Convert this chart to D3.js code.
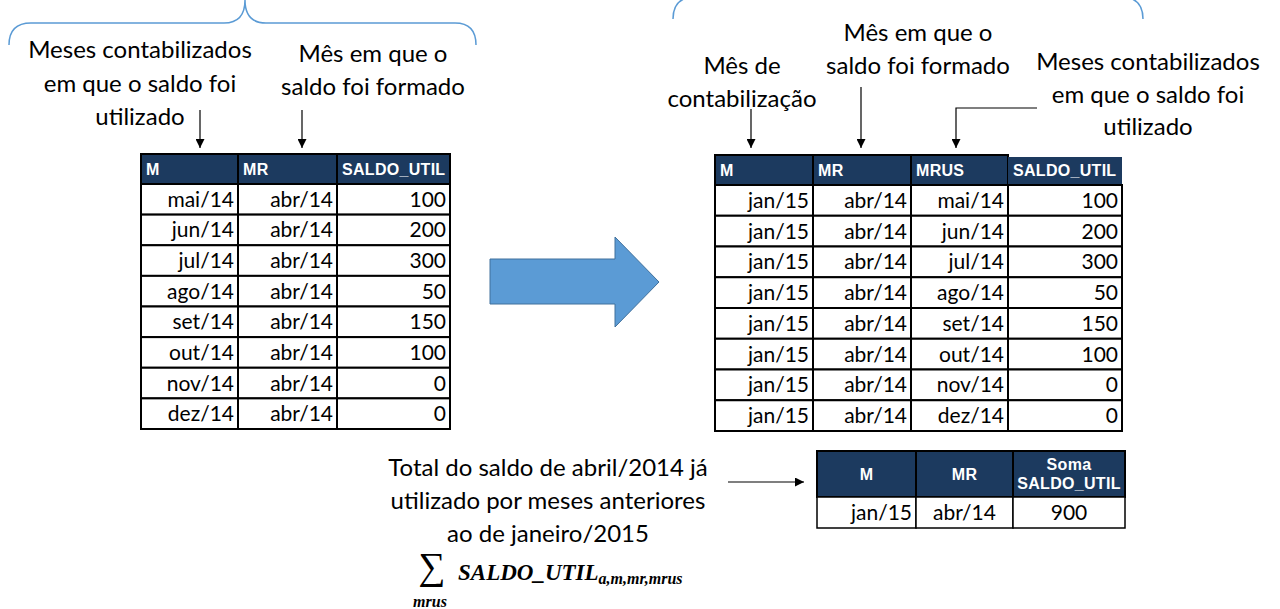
<!DOCTYPE html>
<html><head><meta charset="utf-8">
<script src="https://cdn.jsdelivr.net/npm/d3@7"></script>
<style>html,body{margin:0;padding:0;background:#fff;} svg{display:block}</style>
</head><body><svg id="c" width="1280" height="609"></svg>
<script>
// ---------- data ----------
const monthsUsed  = ["mai/14","jun/14","jul/14","ago/14","set/14","out/14","nov/14","dez/14"];
const monthFormed = ["abr/14","abr/14","abr/14","abr/14","abr/14","abr/14","abr/14","abr/14"];
const monthBooked = ["jan/15","jan/15","jan/15","jan/15","jan/15","jan/15","jan/15","jan/15"];
const saldoUtil   = [100,200,300,50,150,100,0,0];
const leftHeaders  = ["M","MR","SALDO_UTIL"];
const rightHeaders = ["M","MR","MRUS","SALDO_UTIL"];
const sumHeaders   = [["M"],["MR"],["Soma","SALDO_UTIL"]];
const sumM = ["jan/15"], sumMR = ["abr/14"], sumSaldo = [900];
const labelLeftUsed   = ["Meses contabilizados","em que o saldo foi","utilizado"];
const labelFormed     = ["Mês em que o","saldo foi formado"];
const labelBooked     = ["Mês de","contabilização"];
const labelTotal      = ["Total do saldo de abril/2014 já","utilizado por meses anteriores","ao de janeiro/2015"];
const formulaMain = "SALDO_UTIL", formulaSub = "a,m,mr,mrus", formulaIndex = "mrus";

// ---------- setup ----------
const svg = d3.select("#c");
const NAVY = "#1c3a5f", BLUE = "#5b9bd5", BLUE_D = "#41719c";
const LABEL_FONT = "Lato, 'Open Sans', sans-serif";
const CELL_FONT = "Lato, 'Open Sans', sans-serif";
const HEAD_FONT = "'Liberation Sans', Arial, sans-serif";

svg.append("defs").append("marker")
  .attr("id","ah").attr("viewBox","0 0 10 10").attr("refX",10).attr("refY",5)
  .attr("markerWidth",9).attr("markerHeight",9).attr("markerUnits","userSpaceOnUse")
  .attr("orient","auto")
  .append("path").attr("d","M0,0 L10,5 L0,10 Z").attr("fill","#000");

function label(lines, cx, y0, dy, size){
  svg.append("g").selectAll("text").data(lines).join("text")
    .attr("x",cx).attr("y",(d,i)=>y0+i*dy)
    .attr("text-anchor","middle").attr("font-family",LABEL_FONT)
    .attr("font-size",size).attr("fill","#000").text(d=>d);
}
function arrow(points){
  svg.append("path").attr("d", d3.line()(points)).attr("fill","none")
    .attr("stroke","#000").attr("stroke-width",1.2).attr("marker-end","url(#ah)");
}

// ---------- braces ----------
const brace = d3.path();
brace.moveTo(9,45); brace.quadraticCurveTo(9,23,31,23); brace.lineTo(224,23);
brace.quadraticCurveTo(245,23,245,0); brace.quadraticCurveTo(245,23,266,23);
brace.lineTo(455,23); brace.quadraticCurveTo(476,23,476,45);
svg.append("path").attr("d",brace.toString()).attr("fill","none").attr("stroke",BLUE).attr("stroke-width",1.5);
const brace2 = d3.path();
brace2.moveTo(673,19); brace2.quadraticCurveTo(673,-3,695,-3); brace2.lineTo(1121,-3);
brace2.quadraticCurveTo(1143,-3,1143,19);
svg.append("path").attr("d",brace2.toString()).attr("fill","none").attr("stroke",BLUE).attr("stroke-width",1.5);

// ---------- labels ----------
label(labelLeftUsed, 140, 58, 33.5, 24);
label(labelFormed, 373, 62, 33, 24);
label(labelBooked, 742, 74, 33, 24);
label(labelFormed, 918, 41, 33, 24);
label(labelLeftUsed, 1148, 70, 32.5, 24);
label(labelTotal, 548, 476, 33, 24);

arrow([[200,110],[200,148]]);
arrow([[302,110],[302,148]]);
arrow([[751,109],[751,148]]);
arrow([[861,87],[861,148]]);
arrow([[1037,108],[956,108],[956,148]]);
arrow([[728,482],[804,482]]);

// ---------- big arrow ----------
svg.append("path")
  .attr("d", d3.line()([[490,259],[615,259],[615,237],[659,282],[615,327],[615,304],[490,304]]) + "Z")
  .attr("fill",BLUE).attr("stroke",BLUE_D).attr("stroke-width",1);

// ---------- tables ----------
function drawTable(opt){
  const g = svg.append("g");
  const nCols = opt.columns.length, nRows = opt.columns[0].length;
  const x = d3.scaleOrdinal().domain(d3.range(nCols+1)).range(opt.edges);
  const y = d3.scaleBand().domain(d3.range(nRows)).range([opt.headBottom, opt.bottom]);
  const noB = opt.headNoBorder || [];
  const hd = d3.range(nCols);
  g.selectAll("rect.h").data(hd).join("rect").attr("class","h")
    .attr("x",i=>x(i)).attr("y",i=> noB.includes(i) ? opt.top+2 : opt.top)
    .attr("width",i=>x(i+1)-x(i)).attr("height",i=> opt.headBottom - (noB.includes(i) ? opt.top+2 : opt.top))
    .attr("fill",NAVY)
    .attr("stroke",i=>noB.includes(i) ? "none" : "#000").attr("stroke-width",2);
  g.selectAll("text.h").data(hd).join("text").attr("class","h")
    .attr("x",i=> opt.headAlign==="middle" ? (x(i)+x(i+1))/2 : x(i)+5)
    .attr("text-anchor", opt.headAlign==="middle" ? "middle" : "start")
    .attr("y",(opt.top+opt.headBottom)/2)
    .attr("font-family",HEAD_FONT).attr("font-weight","bold").attr("font-size",opt.headSize)
    .attr("fill","#fff").attr("letter-spacing",0.3)
    .each(function(i){
      const lines = [].concat(opt.headers[i]);
      const t = d3.select(this);
      lines.forEach((s,k)=>{
        t.append("tspan").attr("x", opt.headAlign==="middle" ? (x(i)+x(i+1))/2 : x(i)+5)
          .attr("dy", k===0 ? ((0.36 - (lines.length-1)*0.6)+"em") : "1.2em").text(s);
      });
    });
  const cells = [];
  opt.columns.forEach((col,c)=>col.forEach((v,r)=>cells.push({c,r,v})));
  g.selectAll("rect.c").data(cells).join("rect").attr("class","c")
    .attr("x",d=>x(d.c)).attr("y",d=>y(d.r)).attr("width",d=>x(d.c+1)-x(d.c)).attr("height",y.bandwidth())
    .attr("fill","#fff").attr("stroke","#000").attr("stroke-width",opt.cellStroke||2);
  g.selectAll("text.c").data(cells).join("text").attr("class","c")
    .attr("x",d=>{const a=opt.align[d.c]; return a==="end" ? x(d.c+1)-4 : (x(d.c)+x(d.c+1))/2;})
    .attr("text-anchor",d=>opt.align[d.c])
    .attr("y",d=>y(d.r)+y.bandwidth()/2).attr("dy","0.36em")
    .attr("font-family",CELL_FONT).attr("font-size",opt.cellSize).attr("fill","#000")
    .text(d=>d.v);
  return g;
}

drawTable({
  edges:[141,238,337,450], top:154, headBottom:184, bottom:429,
  headers:leftHeaders, columns:[monthsUsed, monthFormed, saldoUtil],
  align:["end","end","end"], headSize:16, cellSize:21
});
drawTable({
  edges:[715,813,911,1008,1122], top:155, headBottom:185, bottom:431,
  headers:rightHeaders, columns:[monthBooked, monthFormed, monthsUsed, saldoUtil],
  align:["end","end","end","end"], headSize:16, cellSize:21, headNoBorder:[3]
});
drawTable({
  edges:[817,916,1013,1125], top:451, headBottom:497, bottom:528,
  headers:sumHeaders, columns:[sumM, sumMR, sumSaldo], headAlign:"middle",
  align:["end","middle","middle"], headSize:16, cellSize:21, cellStroke:1.5
});

// ---------- formula ----------
const fg = svg.append("g").attr("font-family","'Liberation Serif','DejaVu Serif',serif").attr("fill","#000");
fg.append("text").attr("x",432).attr("y",579).attr("text-anchor","middle").attr("font-size",38).text("∑");
fg.append("text").attr("x",430).attr("y",607).attr("text-anchor","middle").attr("font-size",16)
  .attr("font-style","italic").attr("font-weight","bold").text(formulaIndex);
const ft = fg.append("text").attr("x",458).attr("y",580).attr("font-style","italic").attr("font-weight","bold");
ft.append("tspan").attr("font-size",23).text(formulaMain);
ft.append("tspan").attr("font-size",16).attr("dy",4).text(formulaSub);
</script></body></html>
